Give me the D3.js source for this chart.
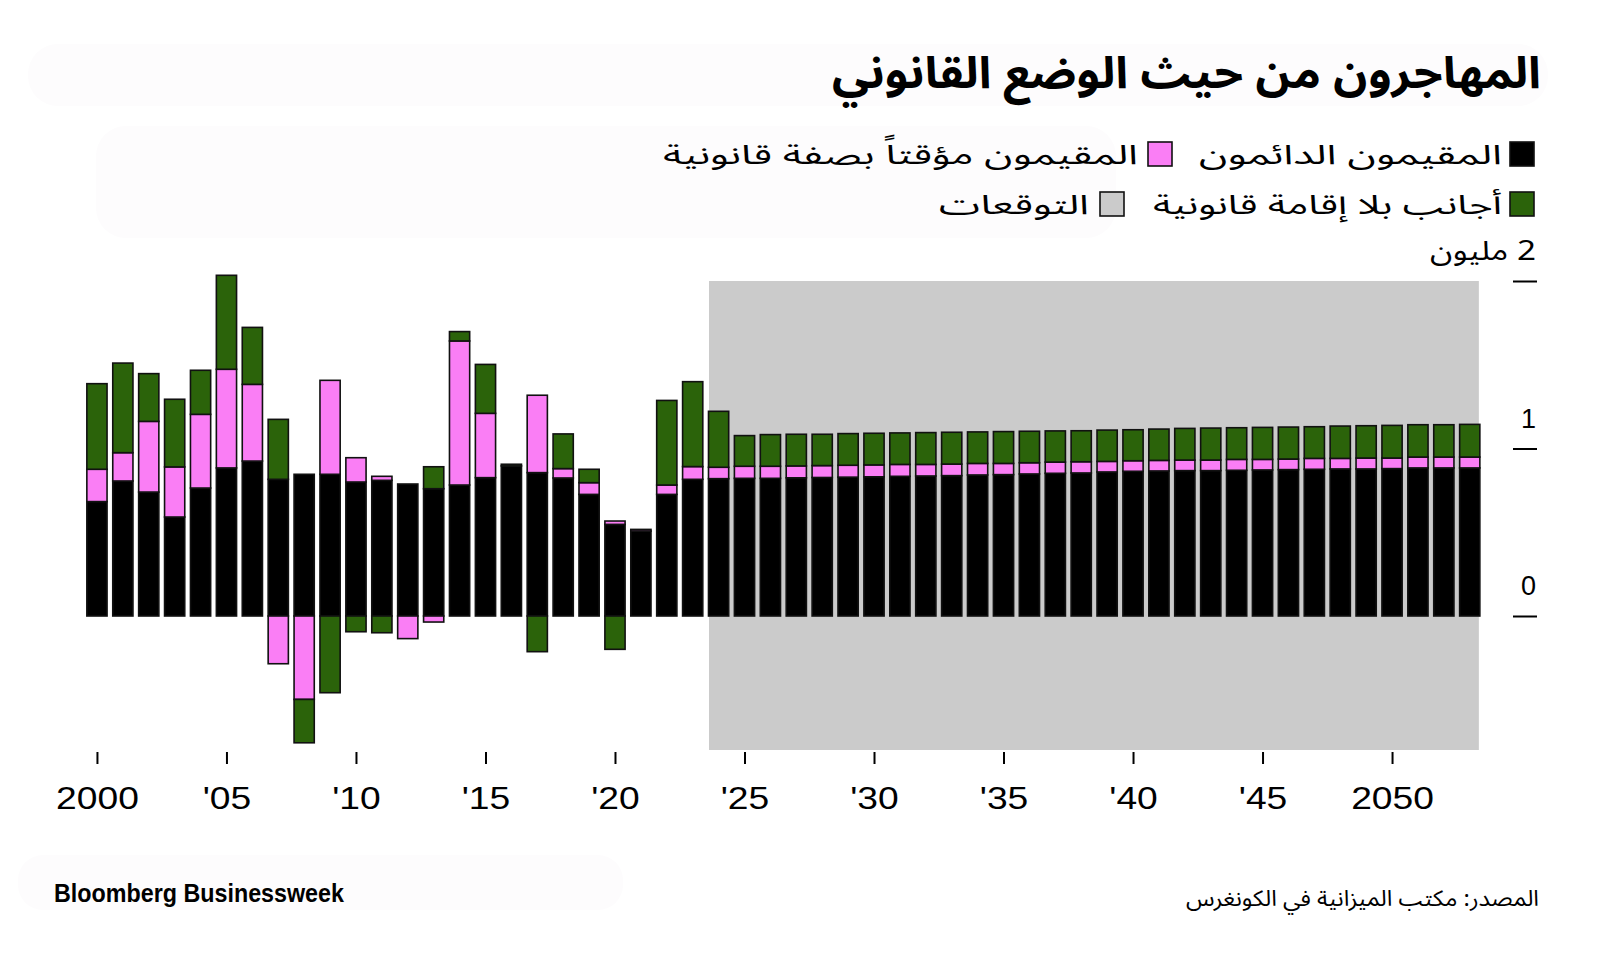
<!DOCTYPE html>
<html><head><meta charset="utf-8">
<script src="https://cdn.jsdelivr.net/npm/d3@7"></script>
<style>
html,body{margin:0;padding:0;background:#fff;}
svg{display:block;}
</style></head><body>
<svg id="chart" width="1600" height="954"></svg>
<script>
// ---------- DATA ----------
const years = [2000,2001,2002,2003,2004,2005,2006,2007,2008,2009,
  2010,2011,2012,2013,2014,2015,2016,2017,2018,2019,
  2020,2021,2022,2023,2024,2025,2026,2027,2028,2029,
  2030,2031,2032,2033,2034,2035,2036,2037,2038,2039,
  2040,2041,2042,2043,2044,2045,2046,2047,2048,2049,
  2050,2051,2052,2053];
// millions
const permanentResidents = [0.683,0.806,0.740,0.591,0.764,0.884,0.925,0.816,0.846,0.846,
  0.800,0.810,0.788,0.760,0.782,0.826,0.896,0.856,0.824,0.726,
  0.547,0.507,0.726,0.816,0.820,0.822,0.822,0.825,0.827,0.829,
  0.831,0.834,0.836,0.838,0.842,0.844,0.848,0.852,0.854,0.860,
  0.864,0.866,0.868,0.868,0.870,0.872,0.874,0.876,0.878,0.878,
  0.880,0.884,0.884,0.884];
const temporaryResidents = [0.193,0.169,0.422,0.299,0.440,0.589,0.458,-0.285,-0.498,0.561,
  0.145,0.024,-0.135,-0.036,0.860,0.384,0.000,0.462,0.056,0.070,
  0.020,0.010,0.056,0.076,0.068,0.072,0.072,0.071,0.071,0.071,
  0.071,0.071,0.069,0.069,0.069,0.067,0.067,0.067,0.067,0.063,
  0.063,0.063,0.063,0.063,0.065,0.063,0.063,0.065,0.063,0.065,
  0.063,0.065,0.065,0.065];
const undocumented = [0.511,0.535,0.285,0.404,0.263,0.561,0.340,0.358,-0.259,-0.458,
  -0.094,-0.100,0.000,0.131,0.056,0.292,0.010,-0.213,0.207,0.080,
  -0.199,0.000,0.505,0.507,0.334,0.183,0.189,0.189,0.187,0.189,
  0.189,0.188,0.190,0.190,0.188,0.190,0.188,0.186,0.185,0.187,
  0.185,0.187,0.189,0.191,0.189,0.191,0.191,0.189,0.193,0.193,
  0.195,0.193,0.193,0.195];
const forecastStart = 2024;
const xTickValues = [2000,2005,2010,2015,2020,2025,2030,2035,2040,2045,2050];
const xTickLabels = ["2000","'05","'10","'15","'20","'25","'30","'35","'40","'45","2050"];
const yTickValues = [0,1,2];
const yTickLabels = ["0","1","2 مليون"];
const seriesKeys = ["perm","temp","undoc"];
const seriesNames = ["المقيمون الدائمون","المقيمون مؤقتاً بصفة قانونية","أجانب بلا إقامة قانونية","التوقعات"];
const title = "المهاجرون من حيث الوضع القانوني";
const source = "المصدر: مكتب الميزانية في الكونغرس";
const brand = "Bloomberg Businessweek";

// ---------- STYLE ----------
const colors = {perm:"#000000", temp:"#fa7ef5", undoc:"#2b630a", shade:"#cbcbcb"};
const arabicFont = "'Noto Sans Arabic','DejaVu Sans',sans-serif";
const latinFont = "'Liberation Sans',Arial,Helvetica,sans-serif";

const rows = years.map((y,i)=>({year:y, perm:permanentResidents[i], temp:temporaryResidents[i], undoc:undocumented[i]}));

const svg = d3.select("#chart");
svg.append("rect").attr("width",1600).attr("height",954).attr("fill","#fff");

// faint background blobs
const blobs = svg.append("g").attr("fill","#fdfcfd");
blobs.append("rect").attr("x",28).attr("y",44).attr("width",1520).attr("height",62).attr("rx",30);
blobs.append("rect").attr("x",96).attr("y",126).attr("width",1020).attr("height",112).attr("rx",30);
blobs.append("rect").attr("x",18).attr("y",855).attr("width",605).attr("height",55).attr("rx",25);

// ---------- SCALES ----------
const x = d3.scaleBand().domain(years).range([84, 1482.7]).paddingInner(0.22).paddingOuter(0.11);
const y = d3.scaleLinear().domain([0,2]).range([616, 281]);
const xc = d3.scaleLinear().domain([years[0], years[years.length-1]])
  .range([x(years[0])+x.bandwidth()/2, x(years[years.length-1])+x.bandwidth()/2]);

// forecast shade
const shadeL = x(forecastStart)+0.5;
const shadeR = x(years[years.length-1]) + x.bandwidth() - 1;
svg.append("rect")
  .attr("x", shadeL)
  .attr("y", y(2))
  .attr("width", shadeR - shadeL)
  .attr("height", y(-0.8)-y(2))
  .attr("fill", colors.shade);

// ---------- BARS ----------
const stack = d3.stack().keys(seriesKeys).offset(d3.stackOffsetDiverging);
const stacked = stack(rows);
const gBars = svg.append("g");
stacked.forEach(layer=>{
  gBars.append("g")
    .attr("fill", colors[layer.key])
    .attr("stroke", "#111")
    .attr("stroke-width", 1.6)
    .selectAll("rect")
    .data(layer.filter(d=>Math.abs(d[1]-d[0])>1e-6))
    .join("rect")
    .attr("x", d=>x(d.data.year))
    .attr("width", x.bandwidth())
    .attr("y", d=>y(Math.max(d[0],d[1])))
    .attr("height", d=>Math.abs(y(d[0])-y(d[1])));
});

// ---------- X AXIS ----------
const xAxis = d3.axisBottom(xc)
  .tickValues(xTickValues)
  .tickFormat((d,i)=>xTickLabels[i])
  .tickSize(12).tickPadding(23);
const gx = svg.append("g").attr("transform","translate(0,752)").call(xAxis);
gx.select(".domain").remove();
gx.selectAll(".tick line").attr("stroke","#000").attr("stroke-width",2);
gx.selectAll(".tick text")
  .attr("fill","#000")
  .style("font-family", latinFont)
  .style("font-size","31px")
  .attr("transform","scale(1.2,1)");

// ---------- Y AXIS ----------
const yAxis = d3.axisRight(y).tickValues(yTickValues).tickFormat("").tickSize(24);
const gy = svg.append("g").attr("transform","translate(1513,0)").call(yAxis);
gy.select(".domain").remove();
gy.selectAll(".tick line").attr("stroke","#000").attr("stroke-width",2);
svg.append("g").selectAll("text").data(yTickValues).join("text")
  .attr("x",1536).attr("y",d=>y(d)-21)
  .attr("direction","rtl").attr("text-anchor","start")
  .style("font-family", (d,i)=> i===2 ? arabicFont : latinFont)
  .style("font-size","27px")
  .attr("textLength",(d,i)=> i===2 ? 106 : null)
  .attr("lengthAdjust","spacingAndGlyphs")
  .attr("fill","#000")
  .text((d,i)=>yTickLabels[i]);

// ---------- TITLE ----------
svg.append("text")
  .attr("x",1541).attr("y",88)
  .attr("direction","rtl").attr("text-anchor","start")
  .style("font-family",arabicFont).style("font-weight","bold").style("font-size","44px")
  .attr("textLength",709).attr("lengthAdjust","spacingAndGlyphs")
  .attr("fill","#000")
  .text(title);

// ---------- LEGEND ----------
const legendItems = [
  {name:seriesNames[0], color:colors.perm, sx:1510, sy:142, tx:1502, tw:303},
  {name:seriesNames[1], color:colors.temp, sx:1148, sy:142, tx:1138, tw:475},
  {name:seriesNames[2], color:colors.undoc, sx:1510, sy:192, tx:1502, tw:349},
  {name:seriesNames[3], color:colors.shade, sx:1100, sy:192, tx:1089, tw:150}
];
const lg = svg.append("g");
legendItems.forEach(it=>{
  lg.append("rect").attr("x",it.sx).attr("y",it.sy).attr("width",24).attr("height",24)
    .attr("fill",it.color).attr("stroke","#111").attr("stroke-width",1.6);
  lg.append("text").attr("x",it.tx).attr("y",it.sy+22)
    .attr("direction","rtl").attr("text-anchor","start")
    .style("font-family",arabicFont).style("font-size","27px")
    .attr("textLength",it.tw).attr("lengthAdjust","spacingAndGlyphs")
    .attr("fill","#000").text(it.name);
});

// ---------- FOOTER ----------
svg.append("text").attr("x",54).attr("y",902)
  .style("font-family",latinFont).style("font-weight","bold").style("font-size","25px")
  .attr("textLength",290).attr("lengthAdjust","spacingAndGlyphs")
  .attr("fill","#000").text(brand);
svg.append("text").attr("x",1539).attr("y",906)
  .attr("direction","rtl").attr("text-anchor","start")
  .style("font-family",arabicFont).style("font-size","22px")
  .attr("textLength",353).attr("lengthAdjust","spacingAndGlyphs")
  .attr("fill","#000").text(source);
</script>
</body></html>
